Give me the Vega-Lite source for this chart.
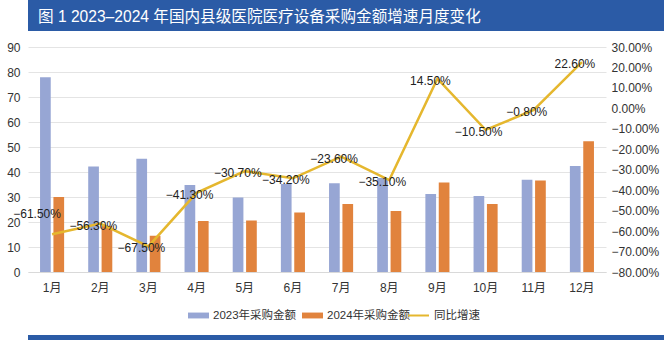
{
  "$schema": "https://vega.github.io/schema/vega-lite/v6.json",
  "background": "white",
  "padding": 0,
  "columns": 1,
  "align": "none",
  "spacing": 10,
  "config": {
    "font": "Liberation Sans, Noto Sans CJK SC, sans-serif",
    "view": {"stroke": null},
    "axis": {"labelFont": "Liberation Sans, Noto Sans CJK SC, sans-serif", "labelFontSize": 12, "labelColor": "#333333", "ticks": false, "title": null},
    "legend": {"labelFont": "Liberation Sans, Noto Sans CJK SC, sans-serif", "labelFontSize": 11.5, "labelColor": "#333333"}
  },
  "resolve": {"legend": {"color": "independent", "stroke": "independent"}},
  "concat": [
    {
      "width": 664,
      "height": 31,
      "view": {"fill": "#2b5ba6", "stroke": null},
      "data": {"values": [{"t": "图 1 2023–2024 年国内县级医院医疗设备采购金额增速月度变化"}]},
      "mark": {"type": "text", "color": "white", "fontSize": 15.6, "align": "left", "baseline": "middle", "dy": 1, "font": "Liberation Sans, Noto Sans CJK SC, sans-serif"},
      "encoding": {"text": {"field": "t"}, "x": {"value": 10}}
    },
    {
      "width": 578,
      "height": 225,
      "data": {"values": [
        {"month": "1月", "y2023": 77.9, "y2024": 30.0, "growth": -0.615},
        {"month": "2月", "y2023": 42.2, "y2024": 18.4, "growth": -0.563},
        {"month": "3月", "y2023": 45.3, "y2024": 14.5, "growth": -0.675},
        {"month": "4月", "y2023": 34.8, "y2024": 20.4, "growth": -0.413},
        {"month": "5月", "y2023": 29.8, "y2024": 20.6, "growth": -0.307},
        {"month": "6月", "y2023": 35.2, "y2024": 23.8, "growth": -0.342},
        {"month": "7月", "y2023": 35.5, "y2024": 27.2, "growth": -0.236},
        {"month": "8月", "y2023": 37.6, "y2024": 24.4, "growth": -0.351},
        {"month": "9月", "y2023": 31.2, "y2024": 35.8, "growth": 0.145},
        {"month": "10月", "y2023": 30.4, "y2024": 27.2, "growth": -0.105},
        {"month": "11月", "y2023": 36.9, "y2024": 36.6, "growth": -0.008},
        {"month": "12月", "y2023": 42.4, "y2024": 52.3, "growth": 0.226}
      ]},
      "layer": [
        {
          "transform": [{"fold": ["y2023", "y2024"], "as": ["series", "value"]}],
          "mark": {"type": "bar"},
          "encoding": {
            "x": {"field": "month", "type": "nominal", "sort": null,
                  "scale": {"paddingInner": 0.5, "paddingOuter": 0.25},
                  "axis": {"labelAngle": 0, "labelPadding": 10, "domain": true, "domainColor": "#d9d9d9", "grid": false}},
            "xOffset": {"field": "series", "type": "nominal", "scale": {"paddingInner": 0.2}},
            "y": {"field": "value", "type": "quantitative",
                  "scale": {"domain": [0, 90], "nice": false},
                  "axis": {"orient": "left", "values": [0, 10, 20, 30, 40, 50, 60, 70, 80, 90], "grid": true, "gridColor": "#e4e4e4", "domain": false, "labelPadding": 8, "minExtent": 28}},
            "color": {"field": "series", "type": "nominal",
                      "scale": {"domain": ["y2023", "y2024"], "range": ["#97a6d4", "#e1833d"]},
                      "legend": {"orient": "none", "legendX": 159, "legendY": 257, "direction": "horizontal", "title": null,
                                 "labelExpr": "datum.label === 'y2023' ? '2023年采购金额' : '2024年采购金额'",
                                 "symbolType": "M-1,-0.28H1V0.28H-1Z", "symbolSize": 441, "labelOffset": 3, "columnPadding": 4}}
          }
        },
        {
          "mark": {"type": "line", "strokeWidth": 2.5},
          "encoding": {
            "x": {"field": "month", "type": "nominal", "sort": null},
            "y": {"field": "growth", "type": "quantitative",
                  "scale": {"domain": [-0.8, 0.3], "nice": false, "zero": false},
                  "axis": {"orient": "right", "values": [-0.8, -0.7, -0.6, -0.5, -0.4, -0.3, -0.2, -0.1, 0, 0.1, 0.2, 0.3], "format": ".2%", "grid": false, "domain": false, "labelPadding": 5, "minExtent": 58}},
            "stroke": {"datum": "同比增速", "type": "nominal",
                       "scale": {"range": ["#e5b72e"]},
                       "legend": {"orient": "none", "legendX": 379, "legendY": 257, "direction": "horizontal", "title": null, "symbolType": "stroke", "symbolSize": 441, "symbolStrokeWidth": 2, "labelOffset": 4}}
          }
        },
        {
          "transform": [{"filter": "datum.month !== '1月'"}],
          "mark": {"type": "text", "fontSize": 12, "color": "#222222", "dx": -7, "dy": 2},
          "encoding": {
            "x": {"field": "month", "type": "nominal", "sort": null},
            "y": {"field": "growth", "type": "quantitative", "scale": {"domain": [-0.8, 0.3], "nice": false, "zero": false}, "axis": null},
            "text": {"field": "growth", "type": "quantitative", "format": ".2%"}
          }
        },
        {
          "transform": [{"filter": "datum.month === '1月'"}],
          "mark": {"type": "text", "fontSize": 12, "color": "#222222", "dx": -15, "dy": -20},
          "encoding": {
            "x": {"field": "month", "type": "nominal", "sort": null},
            "y": {"field": "growth", "type": "quantitative", "scale": {"domain": [-0.8, 0.3], "nice": false, "zero": false}, "axis": null},
            "text": {"field": "growth", "type": "quantitative", "format": ".2%"}
          }
        }
      ],
      "resolve": {"scale": {"y": "independent"}}
    },
    {
      "width": 664,
      "height": 5,
      "view": {"fill": "#2b5ba6", "stroke": null},
      "data": {"values": [{}]},
      "mark": {"type": "text"},
      "encoding": {"text": {"value": ""}}
    }
  ]
}
